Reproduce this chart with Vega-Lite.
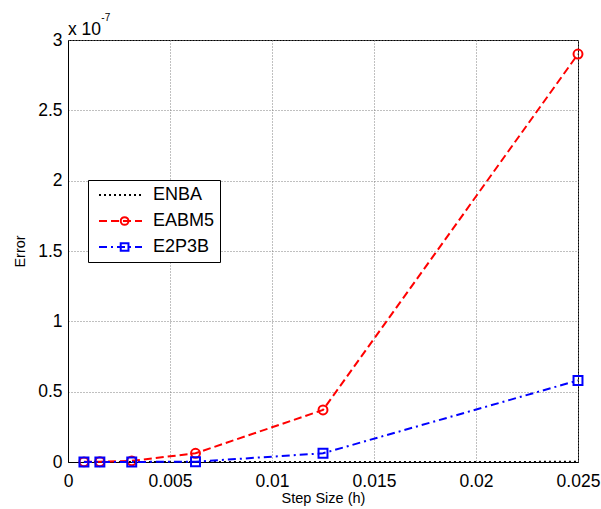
{
  "$schema": "https://vega.github.io/schema/vega-lite/v6.json",
  "width": 510,
  "height": 422,
  "autosize": {"type": "none"},
  "padding": {"left": 68, "top": 40, "right": 23, "bottom": 47},
  "background": "white",
  "config": {
    "font": "Liberation Sans",
    "view": {"stroke": "black", "strokeWidth": 1},
    "axis": {
      "domainColor": "black",
      "domainWidth": 1,
      "labelColor": "black",
      "titleColor": "black",
      "labelFont": "Liberation Sans",
      "titleFont": "Liberation Sans",
      "labelFontSize": 17.5,
      "titleFontSize": 14.5,
      "titleFontWeight": "normal",
      "grid": true,
      "gridColor": "#808080",
      "gridDash": [1, 2],
      "gridWidth": 1,
      "ticks": false
    }
  },
  "title": {
    "text": "\u200b\u00a0\u00a0\u00a0\u00a0\u00a0\u00a0\u00a0\u00a0\u00a0\u00a0\u00a0\u00a0-7",
    "subtitle": "x 10",
    "anchor": "start",
    "frame": "group",
    "font": "Liberation Sans",
    "fontSize": 10,
    "fontWeight": "normal",
    "color": "black",
    "subtitleFont": "Liberation Sans",
    "subtitleFontSize": 17.5,
    "subtitleColor": "black",
    "offset": -7.5,
    "subtitlePadding": -1.5
  },
  "data": {
    "values": [
      {"method": "ENBA", "h": 0.00078125, "error": 1e-12},
      {"method": "ENBA", "h": 0.0015625, "error": 2e-12},
      {"method": "ENBA", "h": 0.003125, "error": 5e-12},
      {"method": "ENBA", "h": 0.00625, "error": 1e-11},
      {"method": "ENBA", "h": 0.0125, "error": 3e-11},
      {"method": "ENBA", "h": 0.025, "error": 1e-10},
      {"method": "EABM5", "h": 0.00078125, "error": 1e-10},
      {"method": "EABM5", "h": 0.0015625, "error": 2e-10},
      {"method": "EABM5", "h": 0.003125, "error": 8e-10},
      {"method": "EABM5", "h": 0.00625, "error": 6.2e-9},
      {"method": "EABM5", "h": 0.0125, "error": 3.7e-8},
      {"method": "EABM5", "h": 0.025, "error": 2.9e-7},
      {"method": "E2P3B", "h": 0.00078125, "error": 1e-11},
      {"method": "E2P3B", "h": 0.0015625, "error": 2e-11},
      {"method": "E2P3B", "h": 0.003125, "error": 5e-11},
      {"method": "E2P3B", "h": 0.00625, "error": 2e-10},
      {"method": "E2P3B", "h": 0.0125, "error": 6.2e-9},
      {"method": "E2P3B", "h": 0.025, "error": 5.8e-8}
    ]
  },
  "resolve": {
    "scale": {"color": "independent", "strokeDash": "independent", "shape": "independent"},
    "legend": {"color": "independent", "strokeDash": "independent", "shape": "independent"}
  },
  "layer": [
    {
      "mark": {"type": "line", "strokeWidth": 2},
      "encoding": {
        "x": {
          "field": "h",
          "type": "quantitative",
          "scale": {"domain": [0, 0.025], "nice": false, "zero": false},
          "axis": {
            "title": "Step Size (h)",
            "values": [0, 0.005, 0.01, 0.015, 0.02, 0.025],
            "format": "~g",
            "labelFlush": false,
            "labelOverlap": false,
            "labelPadding": 10,
            "titlePadding": 1.5
          }
        },
        "y": {
          "field": "error",
          "type": "quantitative",
          "scale": {"domain": [0, 3e-7], "nice": false},
          "axis": {
            "title": "Error",
            "values": [0, 5e-8, 1e-7, 1.5e-7, 2e-7, 2.5e-7, 3e-7],
            "labelExpr": "format(datum.value*1e7, '~g')",
            "labelPadding": 6,
            "titlePadding": 10
          }
        },
        "color": {
          "field": "method",
          "type": "nominal",
          "scale": {"domain": ["ENBA", "EABM5", "E2P3B"], "range": ["#000000", "#ff0000", "#0000ff"]},
          "legend": {
            "title": null, "orient": "none", "legendX": 20, "legendY": 140, "zindex": 1,
            "symbolType": "stroke", "symbolSize": 1849, "symbolStrokeWidth": 2,
            "clipHeight": 20, "rowPadding": 6, "padding": 5,
            "symbolOffset": 5, "labelOffset": 10,
            "labelFontSize": 18, "labelFont": "Liberation Sans", "labelColor": "black",
            "strokeColor": "black", "fillColor": "white", "cornerRadius": 0
          }
        },
        "strokeDash": {
          "field": "method",
          "type": "nominal",
          "scale": {"domain": ["ENBA", "EABM5", "E2P3B"], "range": [[2, 3], [8, 4], [8, 4, 2, 4]]},
          "legend": {
            "title": null, "orient": "none", "legendX": 20, "legendY": 140, "zindex": 1,
            "symbolType": "stroke", "symbolSize": 1849, "symbolStrokeWidth": 2,
            "clipHeight": 20, "rowPadding": 6, "padding": 5,
            "symbolOffset": 5, "labelOffset": 10,
            "labelFontSize": 18, "labelFont": "Liberation Sans", "labelColor": "black",
            "strokeColor": "black", "fillColor": "white", "cornerRadius": 0
          }
        }
      }
    },
    {
      "mark": {"type": "point", "filled": false, "strokeWidth": 2, "size": 80, "opacity": 1},
      "encoding": {
        "x": {"field": "h", "type": "quantitative"},
        "y": {"field": "error", "type": "quantitative"},
        "color": {
          "field": "method",
          "type": "nominal",
          "scale": {"domain": ["ENBA", "EABM5", "E2P3B"], "range": ["#000000", "#ff0000", "#0000ff"]},
          "legend": {
            "title": null, "orient": "none", "legendX": 20, "legendY": 140, "zindex": 2,
            "symbolSize": 60, "symbolStrokeWidth": 2, "symbolFillColor": "transparent",
            "clipHeight": 20, "rowPadding": 6, "padding": 5,
            "symbolOffset": 22.6, "labelOffset": 10,
            "labelFontSize": 18, "labelExpr": "''"
          }
        },
        "shape": {
          "field": "method",
          "type": "nominal",
          "scale": {"domain": ["ENBA", "EABM5", "E2P3B"], "range": ["M0,0", "circle", "square"]},
          "legend": {
            "title": null, "orient": "none", "legendX": 20, "legendY": 140, "zindex": 2,
            "symbolSize": 60, "symbolStrokeWidth": 2, "symbolFillColor": "transparent",
            "clipHeight": 20, "rowPadding": 6, "padding": 5,
            "symbolOffset": 22.6, "labelOffset": 10,
            "labelFontSize": 18, "labelExpr": "''"
          }
        }
      }
    }
  ]
}
